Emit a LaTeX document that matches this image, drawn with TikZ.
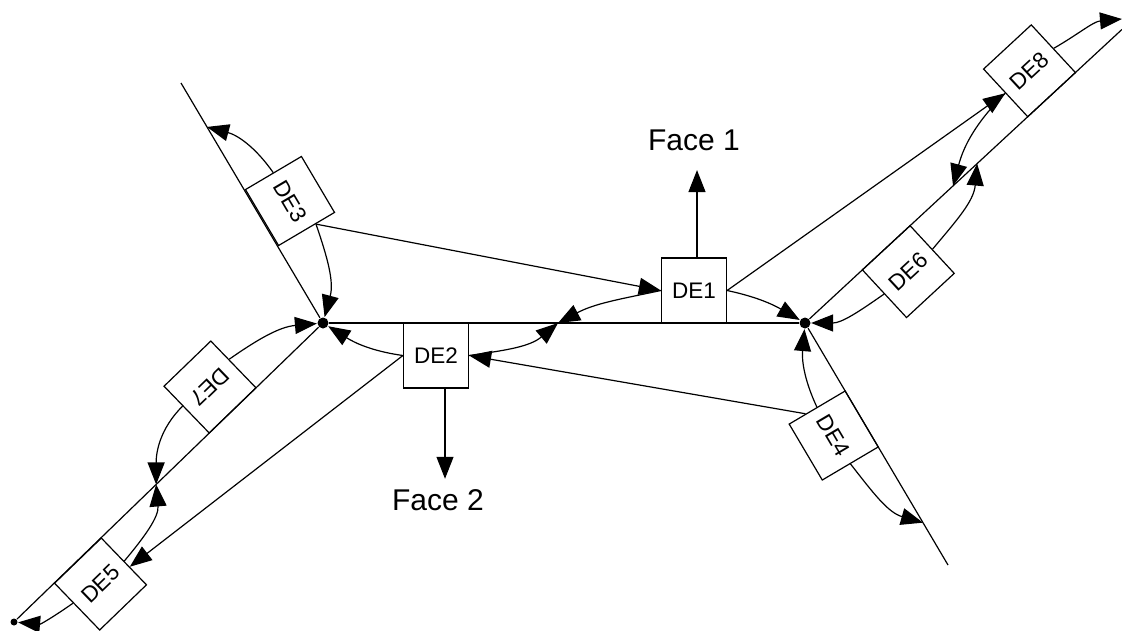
\documentclass[tikz,border=0pt]{standalone}
\usepackage{fontspec}
\setmainfont{Liberation Sans}
\usetikzlibrary{arrows.meta,calc}
\begin{document}
\begin{tikzpicture}[x=1pt,y=1pt,line width=1.2pt,
  arr/.style={-{Triangle[length=22pt,width=17pt]}},
  debox/.style={draw,rectangle,minimum size=65pt,inner sep=0pt,font=\fontsize{22.5}{22.5}\selectfont},
  vdot/.style={circle,fill,inner sep=0pt,minimum size=11pt},
  enddot/.style={circle,fill,inner sep=0pt,minimum size=7pt},
  facelabel/.style={font=\fontsize{30}{30}\selectfont,inner xsep=0pt}]
\useasboundingbox (0,0) rectangle (1122,-630);
% vertices and edge ends
\node[vdot] (v1) at (323,-323) {};
\node[vdot] (v2) at (805,-323) {};
\node[enddot] (w7) at (14,-622) {};
\coordinate (w3) at (181,-83);
\coordinate (w4) at (948,-565);
\coordinate (w6) at (1122,-29.4);
\coordinate (t8) at (1122,-19);
% edges
\draw (v1) -- (v2);
\draw (v1) -- (w3);
\draw (v1) -- (w7);
\draw (v2) -- (w4);
\draw (v2) -- (w6);
% half-edge boxes
\node[debox] (DE1) at (694,-290.5) {DE1};
\node[debox] (DE2) at (436,-355.5) {DE2};
\node[debox,rotate=-59.4] (DE3) at (290,-201) {DE3};
\node[debox,rotate=224] (DE7) at (210,-387) {DE7};
\node[debox,rotate=44] (DE5) at (100.5,-584) {DE5};
\node[debox,rotate=-59.4] (DE4) at (833.7,-435.5) {DE4};
\node[debox,rotate=42.8] (DE6) at (908.3,-271.6) {DE6};
\node[debox,rotate=42.8] (DE8) at (1029.5,-70.8) {DE8};
% face labels
\node[facelabel,inner ysep=19pt] (Face1) at (694,-140) {Face 1};
\node[facelabel,inner ysep=10pt] (Face2) at (438,-500) {Face 2};
% points on edges
\coordinate (p12) at ($(v1)!0.4876!(v2)$);
\coordinate (p3) at ($(v1)!0.817!(w3)$);
\coordinate (p7) at ($(v1)!0.54!(w7)$);
\coordinate (p4) at ($(v2)!0.825!(w4)$);
\coordinate (p6) at ($(v2)!0.543!(w6)$);
\coordinate (p8) at ($(v2)!0.467!(w6)$);
% helper points on box sides
\coordinate (DE3e) at ($(DE3.north east)!0.34!(DE3.south east)$);
\coordinate (DE7w) at ($(DE7.south west)!0.4!(DE7.north west)$);
\coordinate (DE7e) at ($(DE7.south east)!0.42!(DE7.north east)$);
\coordinate (DE5a) at ($(DE5.north east)!0.62!(DE5.south east)$);
\coordinate (DE5b) at ($(DE5.north east)!0.5!(DE5.south east)$);
\coordinate (DE5w) at ($(DE5.north west)!0.42!(DE5.south west)$);
\coordinate (DE4w) at ($(DE4.south west)!0.3!(DE4.north west)$);
\coordinate (f1) at ([xshift=3pt]DE1.north);
\coordinate (f2) at ([xshift=9pt]DE2.south);
% straight pointers
\draw[arr] (DE3e) -- (DE1.west);
\draw[arr] (DE1.east) -- (DE8.west);
\draw[arr] (DE4w) -- (DE2.east);
\draw[arr] (DE2.west) -- (DE5a);
\draw[arr] (f1) -- (f1 |- Face1.south);
\draw[arr] (f2) -- (f2 |- Face2.north);
% curved pointers
\draw[arr] (DE3e) to[out=-71,in=75] (v1);
\draw[arr] (DE3.west) to[out=125,in=-15] (p3);
\draw[arr] (DE1.west) to[out=192,in=28] (p12);
\draw[arr] (DE2.east) to[out=8,in=220] (p12);
\draw[arr] (DE2.west) to[out=172,in=-32] (v1);
\draw[arr] (DE7w) to[out=35,in=185] (v1);
\draw[arr] (DE7e) to[out=225,in=90] (p7);
\draw[arr] (DE5b) to[out=50,in=-85] (p7);
\draw[arr] (DE5w) to[out=215,in=-5] (w7);
\draw[arr] (DE1.east) to[out=-12,in=150] (v2);
\draw[arr] (DE6.west) to[out=215,in=0] (v2);
\draw[arr] (DE6.east) to[out=50,in=-95] (p6);
\draw[arr] (DE8.west) to[out=225,in=75] (p8);
\draw[arr] (DE8.east) to[out=30,in=185] (t8);
\draw[arr] (DE4.west) to[out=115,in=-95] (v2);
\draw[arr] (DE4.east) to[out=-52,in=164] (p4);
\end{tikzpicture}
\end{document}
